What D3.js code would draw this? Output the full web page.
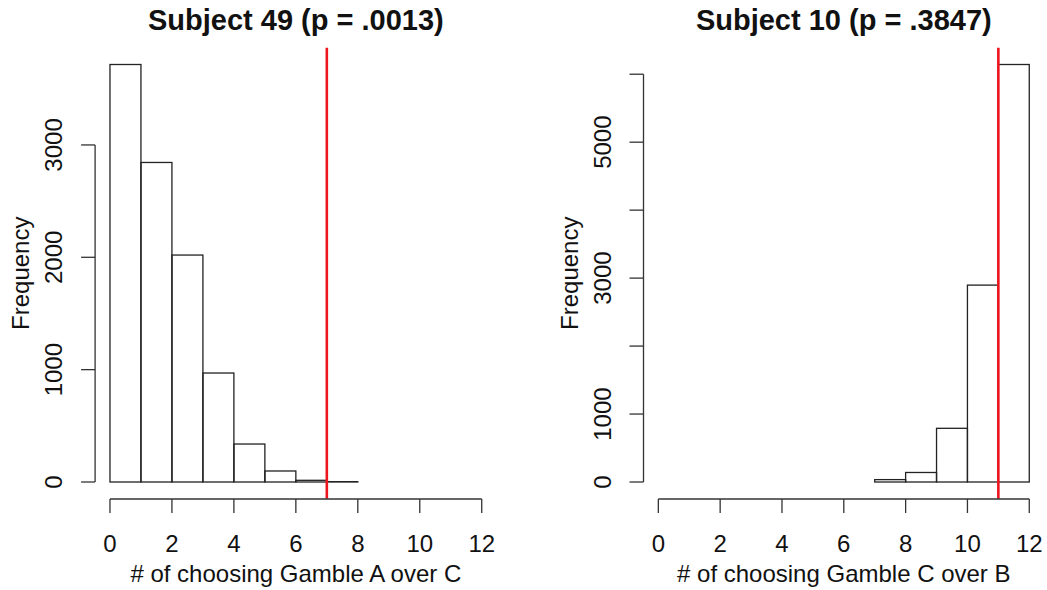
<!DOCTYPE html>
<html>
<head>
<meta charset="utf-8">
<script src="https://cdn.jsdelivr.net/npm/d3@7"></script>
<style>
  body { margin: 0; background: #fff; }
  svg text { font-family: "Liberation Sans", Arial, Helvetica, sans-serif; fill: #111; }
</style>
</head>
<body>
<svg width="1047" height="590"></svg>
<script>
// histogram counts, bins of width 1
const leftBinStarts = [0, 1, 2, 3, 4, 5, 6, 7];
const leftCounts = [3716, 2844, 2020, 970, 338, 98, 15, 3];
const rightBinStarts = [7, 8, 9, 10, 11];
const rightCounts = [35, 140, 790, 2897, 6143];

const leftTitle = "Subject 49 (p = .0013)";
const rightTitle = "Subject 10 (p = .3847)";
const leftXLabel = "# of choosing Gamble A over C";
const rightXLabel = "# of choosing Gamble C over B";
const yLabel = "Frequency";

const xTicks = [0, 2, 4, 6, 8, 10, 12];
const leftYTicks = [0, 1000, 2000, 3000];
const leftYLabels = [0, 1000, 2000, 3000];
const rightYTicks = [0, 1000, 2000, 3000, 4000, 5000, 6000];
const rightYLabels = [0, 1000, 3000, 5000];

const leftObserved = 7;
const rightObserved = 11;

var svg = d3.select("svg");

function drawPanel(p) {
	const g = svg.append("g");
	// R style: 4% padding on both axes
	const x = d3.scaleLinear().domain([-0.48, 12.48]).range([p.left, p.right]);
	const ymax = d3.max(p.counts);
	const y = d3.scaleLinear().domain([-0.04 * ymax, ymax * 1.04]).range([498.7, 47.8]);

	// bars
	g.selectAll("rect.bar")
		.data(p.starts.map((s, i) => ({s: s, c: p.counts[i]})))
		.enter()
		.append("rect")
		.attr("class", "bar")
		.attr("x", d => x(d.s))
		.attr("y", d => y(d.c))
		.attr("width", d => x(d.s + 1) - x(d.s))
		.attr("height", d => y(0) - y(d.c))
		.attr("fill", "none")
		.attr("stroke", "#222")
		.attr("stroke-width", 1.3);

	// observed value
	g.append("line")
		.attr("x1", x(p.observed)).attr("x2", x(p.observed))
		.attr("y1", y.range()[1]).attr("y2", y.range()[0])
		.attr("stroke", "#f0141e")
		.attr("stroke-width", 2.6);

	// x axis
	const xAxis = g.append("g").attr("transform", "translate(0,499)");
	xAxis.append("line")
		.attr("x1", x(0)).attr("x2", x(12))
		.attr("stroke", "#333").attr("stroke-width", 1.3);
	xAxis.selectAll("line.tick").data(xTicks).enter().append("line")
		.attr("x1", d => x(d)).attr("x2", d => x(d))
		.attr("y1", 0).attr("y2", 14)
		.attr("stroke", "#333").attr("stroke-width", 1.3);
	xAxis.selectAll("text").data(xTicks).enter().append("text")
		.attr("x", d => x(d)).attr("y", 53)
		.attr("text-anchor", "middle")
		.style("font-size", "24px")
		.text(d => d);

	// y axis
	const yx = p.left;
	g.append("line")
		.attr("x1", yx).attr("x2", yx)
		.attr("y1", y(0)).attr("y2", y(d3.max(p.yTicks)))
		.attr("stroke", "#333").attr("stroke-width", 1.3);
	g.selectAll("line.ytick").data(p.yTicks).enter().append("line")
		.attr("x1", yx - 14).attr("x2", yx)
		.attr("y1", d => y(d)).attr("y2", d => y(d))
		.attr("stroke", "#333").attr("stroke-width", 1.3);
	g.selectAll("text.ylab").data(p.yLabels).enter().append("text")
		.attr("transform", d => "translate(" + (yx - 33) + "," + y(d) + ") rotate(-90)")
		.attr("text-anchor", "middle")
		.style("font-size", "24px")
		.text(d => d);

	// titles
	const cx = (p.left + p.right) / 2;
	g.append("text")
		.attr("x", cx).attr("y", 30)
		.attr("text-anchor", "middle")
		.style("font-size", "29px").style("font-weight", "bold")
		.text(p.title);
	g.append("text")
		.attr("x", cx).attr("y", 582)
		.attr("text-anchor", "middle")
		.style("font-size", "24px")
		.text(p.xlabel);
	g.append("text")
		.attr("transform", "translate(" + (yx - 66) + "," + ((y.range()[0] + y.range()[1]) / 2) + ") rotate(-90)")
		.attr("text-anchor", "middle")
		.style("font-size", "24px")
		.text(yLabel);
}

drawPanel({left: 95.1, right: 496.6, starts: leftBinStarts, counts: leftCounts,
	observed: leftObserved, yTicks: leftYTicks, yLabels: leftYLabels,
	title: leftTitle, xlabel: leftXLabel});
drawPanel({left: 643.5, right: 1044.1, starts: rightBinStarts, counts: rightCounts,
	observed: rightObserved, yTicks: rightYTicks, yLabels: rightYLabels,
	title: rightTitle, xlabel: rightXLabel});
</script>
</body>
</html>
